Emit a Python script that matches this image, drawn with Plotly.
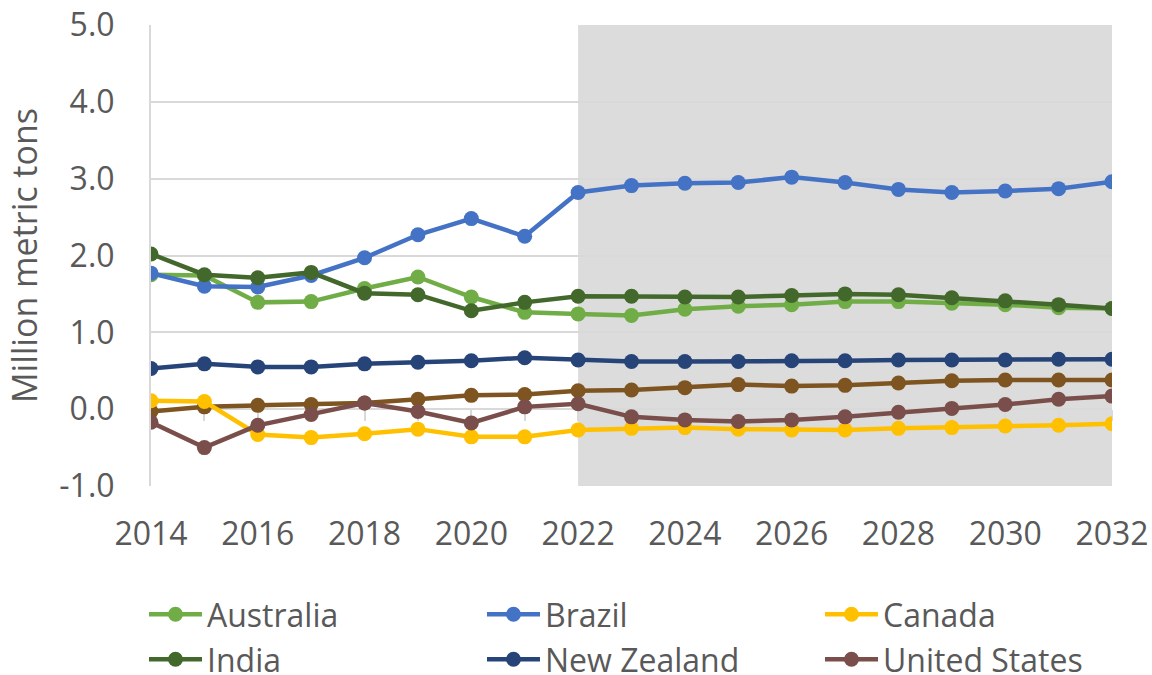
import plotly.graph_objects as go

years = list(range(2014, 2033))

australia = [1.75, 1.74, 1.39, 1.40, 1.57, 1.72, 1.46, 1.26, 1.24, 1.22, 1.30, 1.34, 1.36, 1.40, 1.40, 1.38, 1.36, 1.32, 1.31]
brazil = [1.77, 1.60, 1.59, 1.74, 1.97, 2.27, 2.48, 2.25, 2.82, 2.91, 2.94, 2.95, 3.02, 2.95, 2.86, 2.82, 2.84, 2.87, 2.96]
canada = [0.11, 0.10, -0.33, -0.37, -0.32, -0.26, -0.36, -0.36, -0.27, -0.25, -0.24, -0.26, -0.27, -0.27, -0.25, -0.24, -0.22, -0.21, -0.19]
india = [2.02, 1.75, 1.71, 1.78, 1.51, 1.49, 1.28, 1.39, 1.47, 1.47, 1.46, 1.46, 1.48, 1.50, 1.49, 1.45, 1.41, 1.36, 1.31]
new_zealand = [0.53, 0.59, 0.55, 0.55, 0.59, 0.61, 0.63, 0.67, 0.64, 0.62, 0.62, 0.62, 0.63, 0.63, 0.64, 0.64, 0.64, 0.65, 0.65]
united_states = [-0.17, -0.50, -0.21, -0.07, 0.08, -0.03, -0.18, 0.03, 0.07, -0.10, -0.14, -0.16, -0.14, -0.10, -0.04, 0.01, 0.06, 0.13, 0.17]
other = [-0.03, 0.03, 0.05, 0.06, 0.08, 0.13, 0.18, 0.19, 0.24, 0.25, 0.28, 0.32, 0.30, 0.31, 0.34, 0.37, 0.38, 0.38, 0.38]

tick_years = list(range(2014, 2033, 2))
y_ticks = [-1, 0, 1, 2, 3, 4, 5]
projection_start, projection_end = 2022, 2032

# name, values, colour, legend row
series = [
    ("Australia", australia, "#70AD47", "legend"),
    ("Brazil", brazil, "#4472C4", "legend"),
    ("Canada", canada, "#FFC000", "legend"),
    ("India", india, "#43682B", "legend2"),
    ("New Zealand", new_zealand, "#264478", "legend2"),
    ("United States", united_states, "#7A4F4B", "legend2"),
]

font = "Open Sans"
text_color = "#595959"
grid = "#D9D9D9"

fig = go.Figure()

# unlabelled brown series first so it sits under the others
fig.add_trace(go.Scatter(
    x=years, y=other, name="Other", mode="lines+markers",
    line=dict(color="#7E5421", width=4.5),
    marker=dict(color="#7E5421", size=15), showlegend=False,
))

for name, vals, color, leg in series:
    fig.add_trace(go.Scatter(
        x=years, y=vals, name=name, mode="lines+markers",
        line=dict(color=color, width=4.5),
        marker=dict(color=color, size=15),
        legend=leg,
    ))

# invisible trace to carry the tick axis at zero
fig.add_trace(go.Scatter(x=years, y=[None] * len(years), xaxis="x2",
                         showlegend=False, hoverinfo="skip"))

fig.add_shape(type="rect", xref="x", yref="paper",
              x0=projection_start, x1=projection_end, y0=0, y1=1,
              fillcolor="#DCDCDC", line_width=0, layer="below")

legend_style = dict(
    orientation="h", x=-0.0073, yanchor="top", xanchor="left",
    entrywidth=270, entrywidthmode="pixels", itemwidth=53,
    font=dict(size=32, color=text_color),
    bgcolor="rgba(0,0,0,0)",
)

fig.update_layout(
    width=1152, height=675,
    margin=dict(l=151, r=40, t=25, b=189, autoexpand=False),
    plot_bgcolor="white", paper_bgcolor="white",
    font=dict(family=font, size=32, color=text_color),
    xaxis=dict(
        range=[2014, 2032], tickvals=tick_years, showgrid=False,
        zeroline=False, showline=False, ticks="", automargin=False,
        ticklabelstandoff=26,
    ),
    xaxis2=dict(
        overlaying="x", matches="x", anchor="free", position=1 / 6,
        side="bottom", showticklabels=False, showgrid=False,
        ticks="outside", ticklen=11, tickcolor=grid, tickwidth=2, dtick=1,
        tick0=2014, showline=True, linecolor=grid, linewidth=2,
        layer="below traces",
    ),
    yaxis=dict(
        range=[-1, 5], tickvals=y_ticks, ticktext=[f"{v:.1f}" for v in y_ticks],
        gridcolor=grid, gridwidth=2, automargin=False,
        showline=True, linecolor=grid, linewidth=2, zeroline=False,
        title=dict(text="Million metric tons", font=dict(size=34), standoff=11),
        ticklabelstandoff=28,
    ),
    legend=dict(y=-0.219, **legend_style),
    legend2=dict(y=-0.3167, **legend_style),
)

# drop the page's default body margin so the chart fills the window
fig.write_html("out.html", config={"displayModeBar": False},
               post_script="document.body.style.margin = '0';")
